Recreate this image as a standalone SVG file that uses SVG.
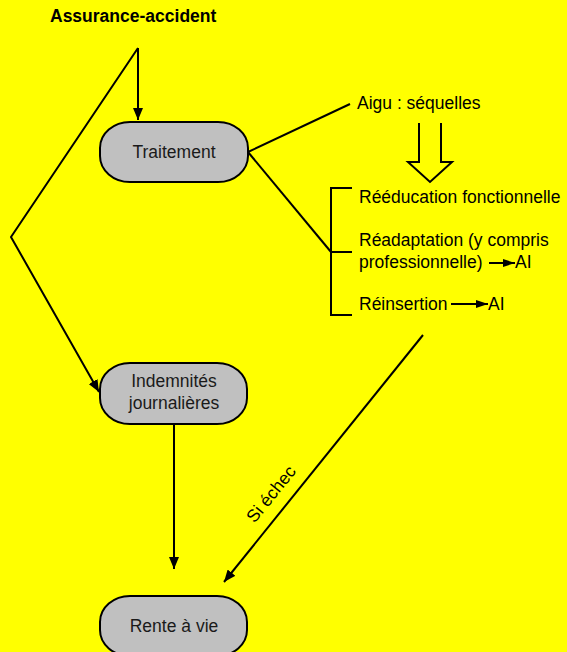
<svg xmlns="http://www.w3.org/2000/svg" width="567" height="652" viewBox="0 0 567 652">
<style>
text{font-family:"Liberation Sans",Arial,sans-serif;font-size:17.5px;fill:#000}
.title{font-weight:bold}
.node rect{fill:#c0c0c0;stroke:#000;stroke-width:2}
.node text{fill:#1a1a1a;text-anchor:middle}
.c{fill:none;stroke:#000;stroke-width:2}
</style>
<defs>
<marker id="ah" viewBox="0 0 12 10" refX="12" refY="5" markerWidth="12" markerHeight="10" markerUnits="userSpaceOnUse" orient="auto">
<path d="M0,0 L12,5 L0,10 Z" fill="#000"/>
</marker>
<marker id="sa" viewBox="0 0 12 8" refX="12" refY="4" markerWidth="12" markerHeight="8" markerUnits="userSpaceOnUse" orient="auto">
<path d="M0,0 L12,4 L0,8 Z" fill="#000"/>
</marker>
</defs>
<rect width="567" height="652" fill="#ffff00"/>
<text class="title" x="50" y="22">Assurance-accident</text>
<g id="connectors">
<path class="c" d="M138,48 L138,120" marker-end="url(#ah)"/>
<path class="c" d="M138,48 L11,237 L99,392" marker-end="url(#ah)"/>
<path class="c" d="M248,152 L350,104"/>
<path class="c" d="M248,152 L331,252"/>
<path class="c" d="M352,188 L331,188 L331,315 L352,315 M331,252 L352,252"/>
<path d="M419,123 L419,162 L408,162 L430,182 L452,162 L441,162 L441,123" fill="none" stroke="#000" stroke-width="2"/>
<path class="c" d="M174,424 L174,569" marker-end="url(#ah)"/>
<path class="c" d="M423,335 L224,582" marker-end="url(#ah)"/>
<path class="c" d="M489,263 L515,263" marker-end="url(#sa)"/>
<path class="c" d="M451,304 L488,304" marker-end="url(#sa)"/>
</g>
<text x="271" y="500" text-anchor="middle" transform="rotate(-51 271 494)">Si échec</text>
<text x="357" y="109">Aigu : séquelles</text>
<text x="359" y="203">Rééducation fonctionnelle</text>
<text x="359" y="246">Réadaptation (y compris</text>
<text x="359" y="268">professionnelle)</text>
<text x="515" y="268">AI</text>
<text x="359" y="310">Réinsertion</text>
<text x="488" y="310">AI</text>
<g id="traitement" class="node">
<rect x="100" y="122" width="148" height="60" rx="30" ry="26"/>
<text x="174" y="158">Traitement</text>
</g>
<g id="indemnites" class="node">
<rect x="100" y="363" width="147" height="61" rx="30" ry="26"/>
<text x="174" y="387">Indemnités</text>
<text x="174" y="409">journalières</text>
</g>
<g id="rente" class="node">
<rect x="100" y="596" width="147" height="60" rx="30" ry="26"/>
<text x="174" y="632">Rente à vie</text>
</g>
</svg>
